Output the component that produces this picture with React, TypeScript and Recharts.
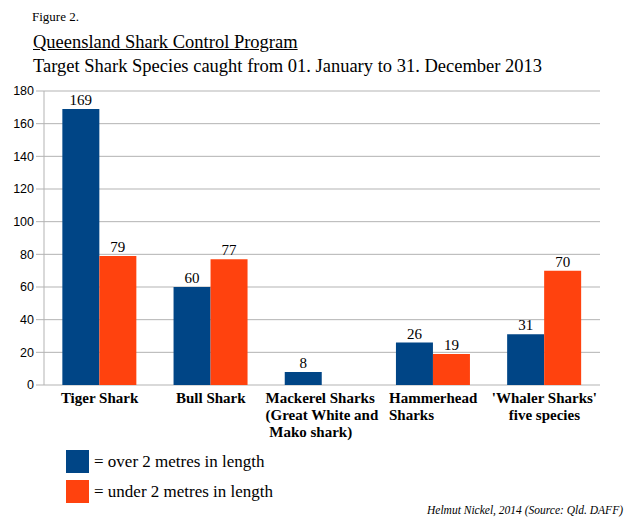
import React from "react";
import { BarChart, Bar, XAxis, YAxis, CartesianGrid, LabelList } from "recharts";

// chart values
const categories = [
  "Tiger Shark",
  "Bull Shark",
  "Mackerel Sharks (Great White and Mako shark)",
  "Hammerhead Sharks",
  "'Whaler Sharks' five species",
];
const categoryLines = [
  ["Tiger Shark"],
  ["Bull Shark"],
  ["Mackerel Sharks", "(Great White and", " Mako shark)"],
  ["Hammerhead", "Sharks"],
  ["'Whaler Sharks'", "five species"],
];
const leftAligned = [false, false, true, true, false];
const over2m = [169, 60, 8, 26, 31];
const under2m = [79, 77, 0, 19, 70];
const seriesNames = ["= over 2 metres in length", "= under 2 metres in length"];
const seriesColors = ["#004586", "#ff420e"];
const yTicks = [0, 20, 40, 60, 80, 100, 120, 140, 160, 180];
const boundaryTicks = [0, 1, 2, 3, 4, 5];

const W = 627;
const H = 521;
const GRID = "#b3b3b3";
const SERIF = "'Liberation Serif', 'Times New Roman', serif";
const SANS = "'Liberation Sans', Arial, sans-serif";

let ctx: CanvasRenderingContext2D | null = null;
function measure(text: string, font: string) {
  if (!ctx) ctx = document.createElement("canvas").getContext("2d");
  if (!ctx) return text.length * 8;
  ctx.font = font;
  return ctx.measureText(text).width;
}

function CategoryTick(props: any) {
  const { x, y, payload } = props;
  const i = categories.indexOf(payload.value);
  const lines = categoryLines[i] || [String(payload.value)];
  let tx = x;
  let anchor: "middle" | "start" = "middle";
  if (leftAligned[i]) {
    const w = Math.max(...lines.map((l) => measure(l, `bold 15px ${SERIF}`)));
    tx = x - w / 2;
    anchor = "start";
  }
  return (
    <text
      x={tx}
      y={y}
      textAnchor={anchor}
      fontFamily={SERIF}
      fontWeight="bold"
      fontSize={15}
      fill="#000"
      style={{ whiteSpace: "pre" }}
    >
      {lines.map((l, k) => (
        <tspan key={k} x={tx} dy={k === 0 ? 16 : 17}>
          {l}
        </tspan>
      ))}
    </text>
  );
}

const hideZero = (v: any) => (v === 0 ? "" : v);

export default function App() {
  const data = categories.map((c, i) => ({
    name: c,
    over: over2m[i],
    under: under2m[i],
  }));

  return (
    <div
      style={{
        position: "absolute",
        left: 0,
        top: 0,
        width: W,
        height: H,
        background: "#fff",
        fontFamily: SERIF,
        color: "#000",
      }}
    >
      <BarChart
        width={W}
        height={H}
        data={data}
        margin={{ top: 91, right: 27, bottom: 76, left: 0 }}
        barCategoryGap="16.5%"
        barGap={0}
      >
        <CartesianGrid vertical={false} stroke={GRID} />
        <XAxis
          xAxisId="edges"
          type="number"
          domain={[0, 5]}
          ticks={boundaryTicks}
          height={0}
          tickSize={5}
          tickLine={{ stroke: GRID }}
          axisLine={{ stroke: GRID }}
          tickFormatter={() => ""}
        />
        <XAxis
          dataKey="name"
          height={60}
          interval={0}
          tickLine={false}
          tickSize={0}
          axisLine={false}
          tick={<CategoryTick />}
        />
        <YAxis
          domain={[0, 180]}
          ticks={yTicks}
          width={44}
          tickSize={8}
          tickLine={{ stroke: GRID }}
          axisLine={{ stroke: GRID }}
          tick={{ fontFamily: SANS, fontSize: 12.5, fill: "#000" }}
        />
        <YAxis
          yAxisId="border"
          orientation="right"
          domain={[0, 180]}
          width={0}
          tick={false}
          tickLine={false}
          axisLine={{ stroke: GRID }}
        />
        <Bar dataKey="over" fill={seriesColors[0]} isAnimationActive={false}>
          <LabelList
            dataKey="over"
            position="top"
            offset={4}
            formatter={hideZero}
            style={{ fontFamily: SERIF, fontSize: 15, fill: "#000" }}
          />
        </Bar>
        <Bar dataKey="under" fill={seriesColors[1]} isAnimationActive={false}>
          <LabelList
            dataKey="under"
            position="top"
            offset={4}
            formatter={hideZero}
            style={{ fontFamily: SERIF, fontSize: 15, fill: "#000" }}
          />
        </Bar>
      </BarChart>

      <div style={{ position: "absolute", left: 32, top: 9, fontSize: 13, lineHeight: "15px" }}>
        Figure 2.
      </div>
      <div
        style={{
          position: "absolute",
          left: 33,
          top: 31,
          fontSize: 18.5,
          lineHeight: "22px",
          textDecoration: "underline",
          whiteSpace: "nowrap",
        }}
      >
        Queensland Shark Control Program
      </div>
      <div
        style={{
          position: "absolute",
          left: 33,
          top: 55,
          fontSize: 18.5,
          lineHeight: "22px",
          whiteSpace: "nowrap",
        }}
      >
        Target Shark Species caught from 01. January to 31. December 2013
      </div>

      {seriesNames.map((name, i) => (
        <div
          key={name}
          style={{
            position: "absolute",
            left: 66,
            top: 450 + i * 30,
            height: 23,
            display: "flex",
            alignItems: "center",
            whiteSpace: "nowrap",
          }}
        >
          <div style={{ width: 23, height: 23, background: seriesColors[i] }} />
          <span style={{ marginLeft: 5, fontSize: 17 }}>{name}</span>
        </div>
      ))}

      <div
        style={{
          position: "absolute",
          right: W - 623,
          top: 503,
          fontSize: 11.5,
          lineHeight: "15px",
          fontStyle: "italic",
          whiteSpace: "nowrap",
        }}
      >
        Helmut Nickel, 2014 (Source: Qld. DAFF)
      </div>
    </div>
  );
}
